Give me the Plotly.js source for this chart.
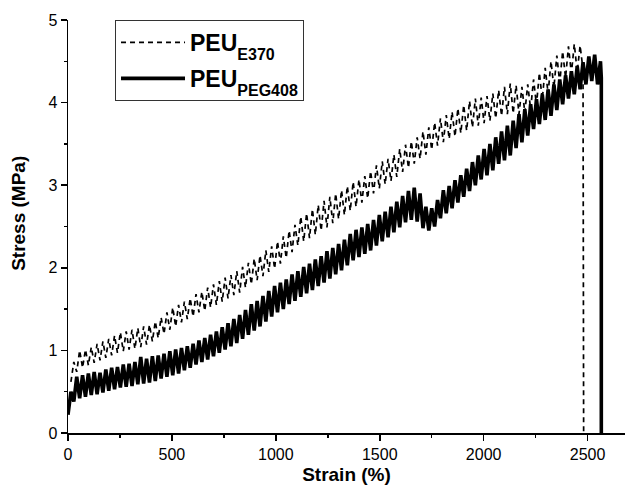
<!DOCTYPE html>
<html>
<head>
<meta charset="utf-8">
<script src="https://cdn.plot.ly/plotly-3.0.1.min.js"></script>
<style>html,body{margin:0;padding:0;background:#fff;}#chart{width:625px;height:486px;}</style>
</head>
<body>
<div id="chart"></div>
<script>
// ---- data ----
const seriesNames = [
  '<b>PEU<sub><sub><span style="font-size:16px">E370</span></sub></sub></b>',
  '<b>PEU<sub><sub><span style="font-size:16px">PEG408</span></sub></sub></b>'
];

const strainE370 = [14,28,42,56,70,84,98,112,126,140,154,168,182,196,210,224,238,252,266,280,294,308,322,336,350,364,378,392,406,420,434,448,462,476,490,504,518,532,546,560,574,588,602,616,630,644,658,672,686,700,714,728,742,756,770,784,798,812,826,840,854,868,882,896,910,924,938,952,966,980,994,1008,1022,1036,1050,1064,1078,1092,1106,1120,1134,1148,1162,1176,1190,1204,1218,1232,1246,1260,1274,1288,1302,1316,1330,1344,1358,1372,1386,1400,1414,1428,1442,1456,1470,1484,1498,1512,1526,1540,1554,1568,1582,1596,1610,1624,1638,1652,1666,1680,1694,1708,1722,1736,1750,1764,1778,1792,1806,1820,1834,1848,1862,1876,1890,1904,1918,1932,1946,1960,1974,1988,2002,2016,2030,2044,2058,2072,2086,2100,2114,2128,2142,2156,2170,2184,2198,2212,2226,2240,2254,2268,2282,2296,2310,2324,2338,2352,2366,2380,2394,2408,2422,2436,2450,2464,2478,2481];
const stressE370 = [
0.62,0.86,0.74,1.00,0.79,1.01,0.82,1.04,0.85,1.08,
0.88,1.11,0.91,1.14,0.94,1.18,0.97,1.22,0.99,1.23,
1.01,1.25,1.02,1.27,1.04,1.29,1.07,1.31,1.11,1.35,
1.15,1.40,1.20,1.46,1.25,1.52,1.29,1.55,1.34,1.59,
1.38,1.63,1.41,1.68,1.46,1.71,1.48,1.76,1.52,1.80,
1.55,1.84,1.59,1.88,1.63,1.91,1.67,1.96,1.70,2.01,
1.76,2.06,1.80,2.11,1.85,2.15,1.90,2.21,1.95,2.26,
1.99,2.32,2.05,2.38,2.12,2.45,2.19,2.52,2.27,2.62,
2.32,2.66,2.36,2.71,2.40,2.76,2.45,2.81,2.49,2.86,
2.54,2.90,2.59,2.94,2.64,2.99,2.69,3.04,2.74,3.07,
2.79,3.11,2.84,3.17,2.90,3.24,2.96,3.29,3.01,3.32,
3.05,3.37,3.10,3.44,3.16,3.49,3.21,3.53,3.26,3.58,
3.32,3.65,3.37,3.70,3.43,3.76,3.48,3.81,3.52,3.85,
3.56,3.89,3.59,3.93,3.63,3.97,3.66,4.02,3.70,4.05,
3.72,4.06,3.75,4.08,3.78,4.11,3.81,4.15,3.84,4.19,
3.86,4.23,3.87,4.21,3.86,4.19,3.88,4.22,3.92,4.28,
3.97,4.36,4.04,4.42,4.11,4.50,4.18,4.57,4.24,4.62,
4.30,4.68,4.35,4.71,4.37,4.69,4.40,
0];

const strainPEG408 = [0,14,28,42,56,70,84,98,112,126,140,154,168,182,196,210,224,238,252,266,280,294,308,322,336,350,364,378,392,406,420,434,448,462,476,490,504,518,532,546,560,574,588,602,616,630,644,658,672,686,700,714,728,742,756,770,784,798,812,826,840,854,868,882,896,910,924,938,952,966,980,994,1008,1022,1036,1050,1064,1078,1092,1106,1120,1134,1148,1162,1176,1190,1204,1218,1232,1246,1260,1274,1288,1302,1316,1330,1344,1358,1372,1386,1400,1414,1428,1442,1456,1470,1484,1498,1512,1526,1540,1554,1568,1582,1596,1610,1624,1638,1652,1666,1680,1694,1708,1722,1736,1750,1764,1778,1792,1806,1820,1834,1848,1862,1876,1890,1904,1918,1932,1946,1960,1974,1988,2002,2016,2030,2044,2058,2072,2086,2100,2114,2128,2142,2156,2170,2184,2198,2212,2226,2240,2254,2268,2282,2296,2310,2324,2338,2352,2366,2380,2394,2408,2422,2436,2450,2464,2478,2492,2506,2520,2534,2548,2562,2566,2566];
const stressPEG408 = [
0.22,0.50,0.38,0.68,0.42,0.70,0.44,0.72,0.46,0.74,
0.47,0.73,0.49,0.77,0.51,0.79,0.53,0.80,0.55,0.83,
0.56,0.84,0.57,0.86,0.59,0.92,0.60,0.90,0.61,0.93,
0.63,0.94,0.66,0.96,0.68,0.99,0.70,1.01,0.72,1.03,
0.76,1.05,0.79,1.08,0.83,1.12,0.86,1.15,0.89,1.19,
0.93,1.23,0.97,1.28,1.01,1.33,1.05,1.38,1.09,1.43,
1.14,1.49,1.19,1.56,1.24,1.60,1.29,1.66,1.35,1.72,
1.41,1.78,1.46,1.82,1.50,1.86,1.56,1.92,1.60,1.96,
1.65,2.01,1.69,2.05,1.73,2.10,1.78,2.14,1.82,2.20,
1.87,2.24,1.92,2.29,1.97,2.34,2.03,2.41,2.09,2.46,
2.13,2.49,2.17,2.53,2.21,2.58,2.27,2.64,2.32,2.68,
2.37,2.74,2.43,2.80,2.49,2.87,2.55,2.93,2.58,2.97,
2.56,2.90,2.48,2.74,2.45,2.72,2.50,2.82,2.60,2.94,
2.66,2.99,2.72,3.06,2.79,3.12,2.86,3.20,2.93,3.28,
3.00,3.36,3.07,3.44,3.12,3.50,3.18,3.58,3.26,3.65,
3.30,3.72,3.36,3.78,3.45,3.86,3.52,3.92,3.60,3.98,
3.68,4.04,3.74,4.10,3.79,4.16,3.84,4.22,3.91,4.28,
3.98,4.33,4.05,4.38,4.10,4.44,4.16,4.49,4.22,4.56,
4.26,4.58,4.22,4.50,4.30,0];

const xTickVals = [0, 500, 1000, 1500, 2000, 2500];
const yTickVals = [0, 1, 2, 3, 4, 5];
const xTitle = '<b>Strain (%)</b>';
const yTitle = '<b>\u00A0\u00A0\u00A0\u00A0\u00A0Stress (MPa)</b>';

// ---- chart ----
const FONT = 'Liberation Sans, Arial, Helvetica, sans-serif';
const traces = [
  {x: strainE370, y: stressE370, name: seriesNames[0], type: 'scatter', mode: 'lines',
   legendgroup: 'a', line: {color: '#000', width: 1.7, dash: '5px,4px'}},
  {x: strainPEG408, y: stressPEG408, name: seriesNames[1], type: 'scatter', mode: 'lines',
   legendgroup: 'b', line: {color: '#000', width: 3.6}}
];

const axisCommon = {
  showline: true, linecolor: '#000', linewidth: 1.5, mirror: false,
  ticks: 'outside', ticklen: 6, tickwidth: 1.5, tickcolor: '#000',
  showgrid: false, zeroline: false, automargin: false,
  tickfont: {family: FONT, size: 16, color: '#000'}
};

const layout = {
  width: 625, height: 486,
  margin: {l: 68, r: 0, t: 20, b: 53, pad: 0},
  paper_bgcolor: '#fff', plot_bgcolor: '#fff',
  font: {family: FONT, color: '#000'},
  showlegend: true,
  xaxis: Object.assign({}, axisCommon, {
    range: [0, 2680], tickmode: 'array', tickvals: xTickVals, ticktext: xTickVals.map(String),
    minor: {dtick: 250, tick0: 0, ticks: 'outside', ticklen: 3, tickwidth: 1.5, tickcolor: '#000', showgrid: false},
    title: {text: xTitle, font: {family: FONT, size: 19, color: '#000'}, standoff: 6}
  }),
  yaxis: Object.assign({}, axisCommon, {
    range: [0, 5], tickmode: 'array', tickvals: yTickVals, ticktext: yTickVals.map(String),
    minor: {dtick: 0.5, tick0: 0, ticks: 'outside', ticklen: 3, tickwidth: 1.5, tickcolor: '#000', showgrid: false},
    title: {text: yTitle, font: {family: FONT, size: 19, color: '#000'}, standoff: 17}
  }),
  legend: {
    x: 0.0844, y: 1.0, xanchor: 'left', yanchor: 'top',
    bgcolor: '#fff', bordercolor: '#333', borderwidth: 1,
    font: {family: FONT, size: 23, color: '#000'},
    itemwidth: 64, traceorder: 'grouped', tracegroupgap: 3
  }
};

Plotly.newPlot('chart', traces, layout, {staticPlot: true, displayModeBar: false});
</script>
</body>
</html>
